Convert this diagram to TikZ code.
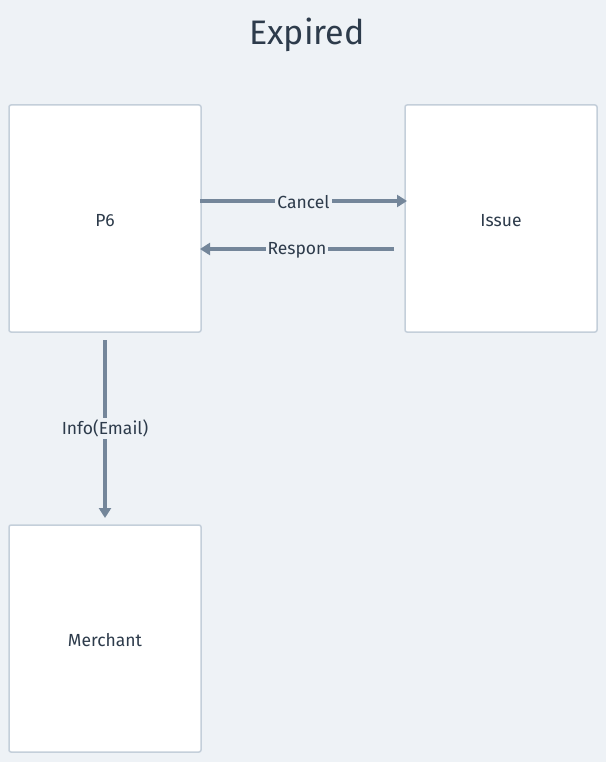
\documentclass[tikz,border=0pt]{standalone}
\usepackage{fontspec}
\setmainfont{Fira Sans}
\usetikzlibrary{arrows.meta}
\definecolor{bgc}{HTML}{EEF2F6}
\definecolor{boxline}{HTML}{C4CFDA}
\definecolor{arrowc}{HTML}{74869A}
\definecolor{textc}{HTML}{2D3B4B}
\tikzset{
  box/.style={draw=boxline, line width=1.5pt, fill=white, rounded corners=2pt, minimum width=192pt, minimum height=227pt, inner sep=0pt, text=textc},
  boxtext/.style={text=textc, font=\fontsize{17.5}{20}\selectfont},
  conn/.style={draw=arrowc, line width=3.5pt, -{Triangle[length=10pt,width=12pt]}},
  lbl/.style={fill=bgc, text=textc, font=\fontsize{17.5}{20}\selectfont, inner sep=2pt, yshift=-1.5pt},
  ttl/.style={text=textc, font=\fontsize{34}{40}\selectfont}
}
\begin{document}
\begin{tikzpicture}[x=1pt,y=-1pt]
\fill[bgc] (0,0) rectangle (606,762);
\useasboundingbox (0,0) rectangle (606,762);
\node[ttl] (title) at (307,35) {Expired};
\node[box] (p6) at (105,218.5) {};
\node[box] (issue) at (501,218.5) {};
\node[box] (merchant) at (105,638.5) {};
\node[boxtext] (p6t) at (105,220.5) {P6};
\node[boxtext] (issuet) at (501,220.5) {Issue};
\node[boxtext] (merchantt) at (105,640.5) {Merchant};
\coordinate (c1) at (200,201);
\coordinate (c2) at (407,201);
\coordinate (r1) at (394,249);
\coordinate (r2) at (200,249);
\coordinate (i1) at (105,340);
\coordinate (i2) at (105,518);
\draw[conn] (c1) -- node[lbl, xshift=0pt] {Cancel} (c2);
\draw[conn] (r1) -- node[lbl] {Respon} (r2);
\draw[conn] (i1) -- node[lbl, pos=0.49] {Info(Email)} (i2);
\end{tikzpicture}
\end{document}
